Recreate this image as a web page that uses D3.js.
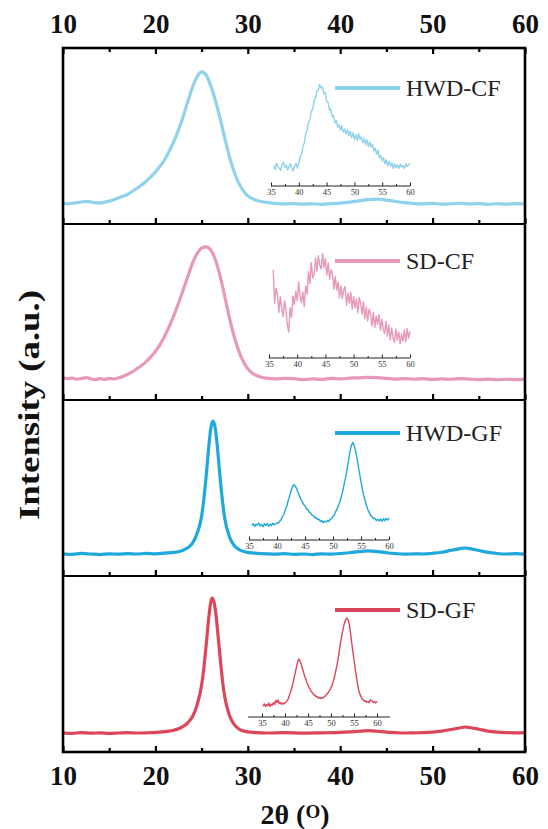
<!DOCTYPE html>
<html lang="en">
<head>
<meta charset="UTF-8">
<title>XRD patterns</title>
<script src="https://d3js.org/d3.v7.min.js"></script>
<style>
  body { margin: 0; background: #fff; }
  text { font-family: "Liberation Serif", "DejaVu Serif", serif; fill: #111; }
  .tick-label text { font-weight: bold; font-size: 27px; }
  .inset-axis text { font-size: 8.5px; fill: #333; }
  .legend-text { font-size: 24px; fill: #222; }
  .axis-title { font-weight: bold; }
</style>
</head>
<body>
<div id="chart"></div>
<script>
// ---- data (intensity in arbitrary units, 0-100 of each panel height) ----
var seriesNames = ["HWD-CF", "SD-CF", "HWD-GF", "SD-GF"];
var seriesColors = ["#8ed2ee", "#e898ba", "#1ea8dc", "#dc465b"];
var majorTicks = [10, 20, 30, 40, 50, 60];
var minorTicks = [15, 25, 35, 45, 55];
var insetTicks = [35, 40, 45, 50, 55, 60];
var insetMinor = [37.5, 42.5, 47.5, 52.5, 57.5];

var hwdCfMain = [[10,11.9],[10.5,11.4],[11,11.8],[11.5,12.1],[12,12.5],[12.5,12.9],[13,12.6],[13.5,12.0],[14,12.0],[14.5,12.4],
  [15,13.0],[15.5,13.8],[16,14.8],[16.5,15.8],[17,16.9],[17.5,18.6],[18,20.3],[18.5,22.2],[19,24.3],[19.5,26.8],
  [20,29.5],[20.5,32.8],[21,36.5],[21.5,41.5],[22,47.0],[22.5,53.5],[23,61.0],[23.5,69.5],[24,77.5],[24.5,83.5],
  [25,86.4],[25.5,84.5],[26,78.5],[26.5,70.0],[27,60.0],[27.5,49.0],[28,38.5],[28.5,30.0],[29,23.5],[29.5,19.0],
  [30,16.0],[30.5,14.4],[31,13.3],[32,12.3],[33,11.7],[34,11.4],[35,11.6],[36,11.3],[37,11.5],[38,11.2],[39,11.6],
  [40,11.9],[41,12.4],[42,13.1],[43,13.9],[44,14.1],[45,13.6],[46,12.8],[47,12.1],[48,11.6],[49,11.4],[50,11.7],
  [51,11.3],[52,11.5],[53,11.8],[54,11.4],[55,11.6],[56,11.2],[57,11.5],[58,11.3],[59,11.6],[60,11.4]];

var sdCfMain = [[10,12.6],[10.5,12.1],[11,12.4],[11.5,11.8],[12,12.2],[12.5,12.7],[13,12.0],[13.5,11.6],[14,12.1],[14.5,11.7],
  [15,12.3],[15.5,12.0],[16,12.6],[16.5,13.4],[17,14.6],[17.5,16.0],[18,17.8],[18.5,19.6],[19,21.8],[19.5,24.5],
  [20,27.6],[20.5,31.5],[21,36.2],[21.5,41.8],[22,48.0],[22.5,55.0],[23,62.5],[23.5,70.0],[24,77.5],[24.5,83.0],
  [25,86.3],[25.5,87.0],[26,85.2],[26.5,79.5],[27,70.5],[27.5,59.0],[28,47.0],[28.5,36.5],[29,28.2],[29.5,22.0],
  [30,17.8],[30.5,15.2],[31,13.8],[31.5,12.9],[32,12.4],[33,12.0],[34,12.3],[35,12.2],[36,11.6],[37,12.0],[38,11.7],
  [39,12.3],[40,12.0],[41,12.4],[42,12.6],[43,12.9],[44,12.7],[45,12.3],[46,11.9],[47,12.2],[48,11.8],[49,12.1],
  [50,11.7],[51,12.0],[52,11.8],[53,12.2],[54,11.9],[55,11.6],[56,11.9],[57,11.5],[58,11.8],[59,11.6],[60,11.9]];

var hwdGfMain = [[10,12.6],[11,12.3],[12,12.8],[13,12.5],[14,12.2],[15,12.6],[16,12.4],[17,12.7],[18,12.5],[19,12.8],
  [20,12.6],[21,13.0],[22,13.4],[22.5,13.8],[23,14.6],[23.5,16.0],[24,18.5],[24.5,24.0],[25,34.0],[25.25,44.0],
  [25.5,57.0],[25.75,72.0],[26,84.0],[26.2,88.0],[26.4,86.0],[26.6,79.0],[26.8,68.0],[27,56.0],[27.25,43.0],[27.5,33.0],
  [28,22.5],[28.5,17.5],[29,15.2],[29.5,14.0],[30,13.4],[31,12.9],[32,12.6],[33,12.4],[34,12.7],[35,12.3],[36,12.5],
  [37,12.2],[38,12.6],[39,12.4],[40,12.8],[41,13.2],[42,13.8],[43,14.3],[44,13.9],[45,13.2],[46,12.7],[47,12.4],
  [48,12.6],[49,12.5],[50,12.9],[51,13.5],[52,14.6],[53,15.6],[53.5,15.9],[54,15.6],[55,14.5],[56,13.4],[57,12.8],
  [58,12.5],[59,12.7],[60,12.4]];

var sdGfMain = [[10,10.9],[11,10.6],[12,11.0],[13,10.7],[14,10.9],[15,10.6],[16,10.8],[17,11.0],[18,10.8],[19,10.9],
  [20,11.1],[21,11.6],[22,12.4],[22.5,13.2],[23,14.6],[23.5,16.6],[24,20.0],[24.5,26.5],[25,38.0],[25.25,48.0],
  [25.5,61.0],[25.75,75.0],[26,85.5],[26.15,87.5],[26.35,85.0],[26.6,76.0],[26.8,65.0],[27,54.0],[27.25,41.0],[27.5,31.5],
  [28,21.0],[28.5,15.8],[29,13.2],[29.5,12.0],[30,11.4],[31,11.0],[32,10.8],[34,11.0],[36,10.7],[38,10.9],[40,11.1],
  [41,11.4],[42,11.8],[43,12.1],[44,11.8],[45,11.3],[46,11.0],[47,10.8],[48,10.9],[49,11.0],[50,11.3],[51,11.9],
  [52,12.8],[53,13.8],[53.5,14.2],[54,13.9],[55,12.9],[56,11.9],[57,11.3],[58,11.0],[59,10.9],[60,11.0]];

// insets: scans on a 0.25 degree step, first angle given by insetStarts
var insetStep = 0.25;
var insetStarts = [35.5, 35.75, 35.5, 35.25];

var hwdCfInset = [33.3,31.0,34.6,32.8,31.6,30.5,33.9,35.0,32.1,33.4,30.7,32.7,34.2,31.4,30.2,33.1,34.4,31.8,
  34.6,38.5,39.4,44.1,46.2,51.3,53.1,58.0,59.4,64.2,65.1,70.3,71.2,75.6,76.1,79.3,77.2,78.0,74.1,74.6,69.6,69.2,
  64.9,65.3,60.8,61.7,57.4,58.9,55.1,56.3,53.2,55.8,52.1,54.0,51.3,53.6,50.2,52.7,49.1,51.8,48.0,50.9,47.6,51.3,
  48.2,49.5,46.1,48.7,45.3,47.9,44.0,46.6,43.8,45.2,41.5,43.1,39.6,41.8,37.4,39.0,35.8,37.7,34.2,36.5,33.1,35.6,
  32.9,34.8,31.7,34.2,32.0,33.5,31.6,34.0,32.3,33.2,31.5,34.3,32.8,33.6,34.7];

var sdCfInset = [74.0,55.0,63.5,60.1,49.8,58.7,52.0,47.4,56.3,51.2,43.0,38.6,52.4,47.1,59.0,54.3,61.8,56.4,66.9,
  59.3,55.2,61.4,53.0,64.8,60.2,72.9,66.1,78.0,69.5,71.2,80.6,73.3,82.0,76.5,74.4,83.1,75.2,80.4,71.0,77.8,68.6,
  74.1,71.9,63.0,70.2,62.4,66.8,58.1,64.9,57.6,62.3,64.5,53.9,60.8,55.0,61.2,51.7,58.9,52.3,57.4,49.6,58.2,55.1,
  48.7,55.9,46.2,52.8,44.9,51.6,49.0,42.1,49.8,41.3,47.6,43.0,48.5,39.7,45.9,40.2,37.8,44.6,36.3,42.5,34.1,40.9,
  35.2,32.6,40.3,34.0,38.7,31.9,37.6,33.4,39.8,33.1,40.6,35.2,39.0];

var hwdGfInset = [28.6,29.8,28.1,29.5,28.9,30.1,28.4,29.2,28.0,29.7,28.8,29.9,28.3,29.4,28.7,30.0,29.1,29.6,
  30.3,30.0,31.2,32.1,33.9,35.2,37.8,39.6,42.9,45.4,48.3,50.6,51.9,51.2,49.8,47.3,45.9,43.5,42.4,40.6,39.9,38.2,
  37.9,36.3,35.8,34.6,34.3,33.1,33.2,32.0,32.3,30.9,31.5,30.4,31.1,30.6,31.6,31.0,32.3,32.6,34.0,34.8,36.7,38.1,
  40.4,42.3,45.2,48.4,52.3,56.0,60.4,65.1,70.2,73.8,75.9,74.5,71.4,67.6,62.8,58.1,53.6,49.2,45.7,42.6,39.8,37.5,
  35.9,34.3,33.7,32.6,32.8,31.5,32.2,31.3,32.4,31.1,32.5,31.4,32.7,31.8,32.9];

var sdGfInset = [26.1,27.4,25.8,27.0,26.3,27.8,25.9,27.2,26.5,28.1,27.0,29.3,28.1,29.6,27.6,28.2,27.1,27.9,27.3,
  28.0,28.4,29.3,30.5,32.6,34.3,36.8,39.4,42.3,45.2,48.4,51.0,52.9,51.8,50.1,47.6,45.7,43.2,41.8,39.5,38.3,36.4,
  35.7,34.1,33.8,32.5,32.4,31.3,31.6,30.6,31.0,30.4,30.9,30.6,31.4,31.8,32.6,33.2,34.3,35.1,36.6,38.0,40.2,42.6,
  45.7,48.6,52.2,56.3,60.9,64.7,68.2,71.4,74.0,75.6,76.1,75.0,72.2,67.5,62.1,57.0,52.4,47.6,43.1,38.9,35.5,33.0,
  31.6,30.2,29.7,28.8,29.1,28.3,28.6,28.0,29.6,29.2,29.0,28.1,28.5,27.9,28.8];

// ---- layout ----
var width = 548, height = 829;
var plot = {left: 63, right: 525, top: 48, panelH: 176};
// inset placement per panel: pixel x of 35 and 60, axis offset from panel top, drawn axis extent
var insetLayout = [
  {x0: 271, x1: 410, axisOff: 138, ext: [35, 60]},
  {x0: 269, x1: 410, axisOff: 134, ext: [35, 60]},
  {x0: 249, x1: 389, axisOff: 140, ext: [35, 60]},
  {x0: 262, x1: 377, axisOff: 141, ext: [32, 62.8]}
];
var legendOff = [40, 37, 33, 34];

var mains = [hwdCfMain, sdCfMain, hwdGfMain, sdGfMain];
var insets = [hwdCfInset, sdCfInset, hwdGfInset, sdGfInset];

var svg = d3.select('#chart').append('svg')
  .attr('width', width)
  .attr('height', height)
  .style('background', '#fff');

var x = d3.scaleLinear().domain([10, 60]).range([plot.left, plot.right]);
var plotBottom = plot.top + 4 * plot.panelH;

seriesNames.forEach(function (name, i) {
  var top = plot.top + i * plot.panelH, bottom = top + plot.panelH;
  var y = d3.scaleLinear().domain([0, 100]).range([bottom, top]);
  var g = svg.append('g');

  // main pattern
  var line = d3.line()
    .x(function (d) { return x(d[0]); })
    .y(function (d) { return y(d[1]); })
    .curve(d3.curveMonotoneX);
  g.append('path')
    .datum(mains[i])
    .attr('d', line)
    .attr('fill', 'none')
    .attr('stroke', seriesColors[i])
    .attr('stroke-width', 3.2)
    .attr('stroke-linejoin', 'round');

  // inset
  var L = insetLayout[i];
  var ix = d3.scaleLinear().domain([35, 60]).range([L.x0, L.x1]);
  var axisY = top + L.axisOff;
  var pts = insets[i].map(function (v, k) { return [insetStarts[i] + k * insetStep, v]; });
  g.append('path')
    .datum(pts)
    .attr('d', d3.line().x(function (d) { return ix(d[0]); }).y(function (d) { return y(d[1]); }))
    .attr('fill', 'none')
    .attr('stroke', seriesColors[i])
    .attr('stroke-width', 1.4)
    .attr('stroke-linejoin', 'round');

  var ia = g.append('g').attr('class', 'inset-axis')
    .attr('transform', 'translate(0,' + axisY + ')');
  ia.call(d3.axisBottom(ix).tickValues(insetTicks).tickSize(-3.5).tickPadding(3));
  ia.attr('font-family', null).attr('font-size', null);
  ia.select('.domain').remove();
  ia.append('line')
    .attr('x1', ix(L.ext[0])).attr('x2', ix(L.ext[1]))
    .attr('stroke', '#222').attr('stroke-width', 1);
  ia.selectAll('.tick line').attr('stroke', '#222');
  var im = g.append('g').attr('transform', 'translate(0,' + axisY + ')');
  im.call(d3.axisBottom(ix).tickValues(insetMinor).tickSize(-2).tickFormat(''));
  im.select('.domain').remove();
  im.selectAll('.tick line').attr('stroke', '#222');

  // legend
  var ly = top + legendOff[i];
  g.append('line')
    .attr('x1', 335).attr('x2', 400)
    .attr('y1', ly).attr('y2', ly)
    .attr('stroke', seriesColors[i])
    .attr('stroke-width', 4);
  g.append('text')
    .attr('class', 'legend-text')
    .attr('x', 406).attr('y', ly + 8)
    .text(name);

  // ticks along the bottom edge of each panel, pointing inward
  var tb = svg.append('g').attr('transform', 'translate(0,' + bottom + ')');
  tb.call(d3.axisBottom(x).tickValues(majorTicks).tickSize(-6).tickFormat(''));
  tb.select('.domain').remove();
  tb.selectAll('.tick line').attr('stroke', '#000').attr('stroke-width', 2.2);
  var tm = svg.append('g').attr('transform', 'translate(0,' + bottom + ')');
  tm.call(d3.axisBottom(x).tickValues(minorTicks).tickSize(-4).tickFormat(''));
  tm.select('.domain').remove();
  tm.selectAll('.tick line').attr('stroke', '#000').attr('stroke-width', 2.2);

  if (i > 0) {
    svg.append('line')
      .attr('x1', plot.left).attr('x2', plot.right)
      .attr('y1', top).attr('y2', top)
      .attr('stroke', '#000').attr('stroke-width', 2);
  }
});

// top axis
var topAx = svg.append('g').attr('class', 'tick-label')
  .attr('transform', 'translate(0,' + plot.top + ')');
topAx.call(d3.axisTop(x).tickValues(majorTicks).tickSize(-6).tickPadding(15));
topAx.attr('font-family', null).attr('font-size', null);
topAx.select('.domain').remove();
topAx.selectAll('.tick line').attr('stroke', '#000').attr('stroke-width', 2.2);
topAx.selectAll('text').attr('fill', '#111');
var topMin = svg.append('g').attr('transform', 'translate(0,' + plot.top + ')');
topMin.call(d3.axisTop(x).tickValues(minorTicks).tickSize(-4).tickFormat(''));
topMin.select('.domain').remove();
topMin.selectAll('.tick line').attr('stroke', '#000').attr('stroke-width', 2.2);

// bottom labels
var botAx = svg.append('g').attr('class', 'tick-label')
  .attr('transform', 'translate(0,' + plotBottom + ')');
botAx.call(d3.axisBottom(x).tickValues(majorTicks).tickSize(0).tickPadding(14));
botAx.attr('font-family', null).attr('font-size', null);
botAx.select('.domain').remove();
botAx.selectAll('text').attr('fill', '#111');

// frame
svg.append('rect')
  .attr('x', plot.left).attr('y', plot.top)
  .attr('width', plot.right - plot.left)
  .attr('height', plotBottom - plot.top)
  .attr('fill', 'none')
  .attr('stroke', '#000')
  .attr('stroke-width', 2.6);

// axis titles
svg.append('text')
  .attr('class', 'axis-title')
  .attr('transform', 'translate(28,' + ((plot.top + plotBottom) / 2 + 5) + ') rotate(-90)')
  .attr('text-anchor', 'middle')
  .attr('dominant-baseline', 'central')
  .attr('font-size', 30)
  .attr('textLength', 230)
  .attr('lengthAdjust', 'spacingAndGlyphs')
  .text('Intensity (a.u.)');

var xt = svg.append('text')
  .attr('class', 'axis-title')
  .attr('x', 295).attr('y', 824)
  .attr('text-anchor', 'middle')
  .attr('font-size', 28);
xt.append('tspan').text('2θ (');
xt.append('tspan').attr('font-size', 19).attr('dy', -6).text('O');
xt.append('tspan').attr('dy', 6).text(')');
</script>
</body>
</html>
